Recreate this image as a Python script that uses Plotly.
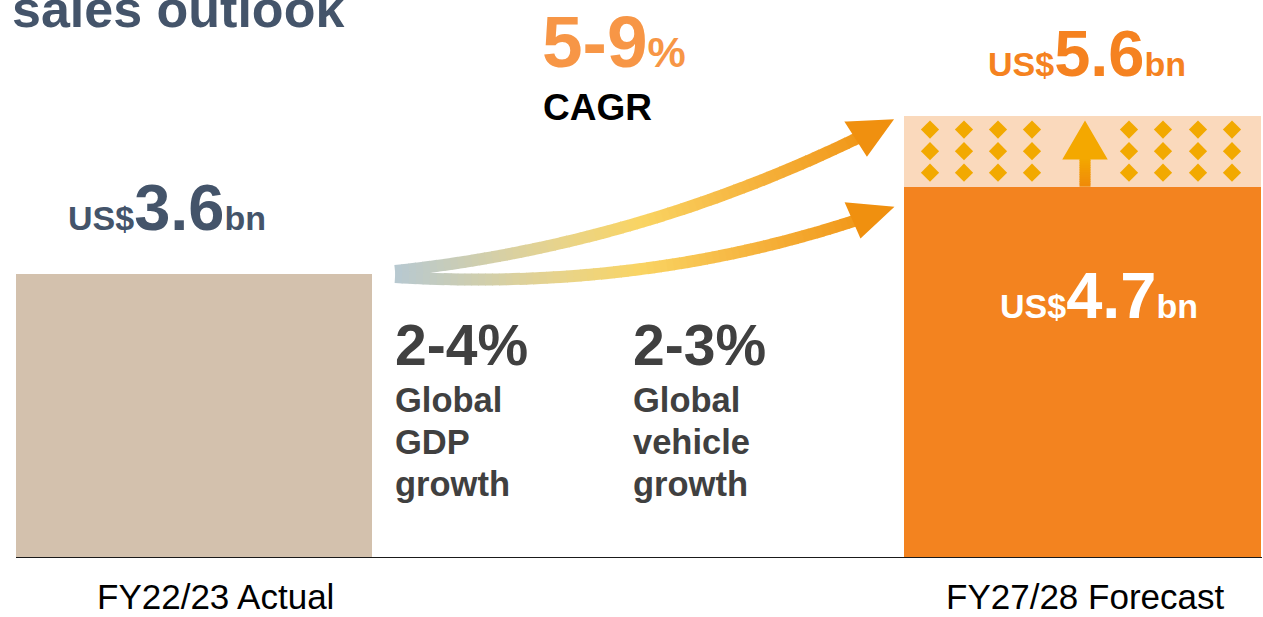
import numpy as np
import plotly.graph_objects as go

# ---- data ----
categories = ["FY22/23 Actual", "FY27/28 Forecast"]
sales_actual = [3.6]          # US$ bn, FY22/23
sales_base = [4.7]            # US$ bn, FY27/28 lower end
sales_upside = [5.6]          # US$ bn, FY27/28 upper end
cagr_label = ["5-9", "%"]
drivers = [("2-4%", ["Global", "GDP", "growth"]), ("2-3%", ["Global", "vehicle", "growth"])]

W, H = 1263, 617
BOTTOM = 59
PLOT_H = H - BOTTOM
PX_PER_BN = 79.0
X0_PX, X_UNIT = 194.0, 888.5


def X(px):
    return (px - X0_PX) / X_UNIT


def Y(py):
    return (PLOT_H - py) / PX_PER_BN


def PX(px):
    return px / W


def PY(py):
    return (PLOT_H - py) / PLOT_H


FONT = "Liberation Sans, Arial, sans-serif"
SLATE = "#44546A"
TAN = "#D3C1AD"
ORANGE = "#F3831F"
PEACH = "#FAD9BC"
GOLD = "#F2A900"

fig = go.Figure()

# bars
fig.add_trace(go.Bar(x=[0], y=sales_actual, width=0.401, marker=dict(color=TAN, line=dict(width=0)),
                     hoverinfo="skip"))
fig.add_trace(go.Bar(x=[1], y=sales_base, width=0.401, marker=dict(color=ORANGE, line=dict(width=0)),
                     hoverinfo="skip"))
fig.add_trace(go.Bar(x=[1], y=[sales_upside[0] - sales_base[0]], base=sales_base, width=0.401,
                     marker=dict(color=PEACH, line=dict(width=0)), hoverinfo="skip"))

# diamond pattern in the upside band
top_px = PLOT_H - sales_upside[0] * PX_PER_BN
base_px = PLOT_H - sales_base[0] * PX_PER_BN
cols = [930, 964, 998, 1032, 1129, 1163, 1198, 1232]
rows = [top_px + 14, (top_px + base_px) / 2, base_px - 14]
dx, dy = [], []
for r in rows:
    for c in cols:
        dx.append(X(c))
        dy.append(Y(r))
fig.add_trace(go.Scatter(x=dx, y=dy, mode="markers",
                         marker=dict(symbol="diamond", size=14, color=GOLD, line=dict(width=0)),
                         hoverinfo="skip"))

shapes = []

# vertical upside arrow
ax = 1085
tip = top_px + 7
head_base = top_px + 43
n_seg = 12
c_bot = np.array([240, 138, 10])
c_top = np.array([244, 168, 0])
for i in range(n_seg):
    y_a = base_px - (base_px - head_base) * i / n_seg
    y_b = base_px - (base_px - head_base) * (i + 1) / n_seg - 0.8
    f = (i + 0.5) / n_seg
    col = c_bot * (1 - f) + c_top * f
    shapes.append(dict(type="rect", xref="x", yref="y", x0=X(ax - 5.5), x1=X(ax + 5.5),
                       y0=Y(y_a), y1=Y(y_b), line=dict(width=0),
                       fillcolor="rgb(%d,%d,%d)" % tuple(col.astype(int)), layer="above"))
shapes.append(dict(type="path", xref="x", yref="y",
                   path="M %f %f L %f %f L %f %f Z" % (X(ax - 21), Y(head_base), X(ax), Y(tip),
                                                     X(ax + 21), Y(head_base)),
                   fillcolor="rgb(244,168,0)", line=dict(width=2, color="rgb(244,168,0)"), layer="above"))

# gradient growth arrows
stops_x = [395, 560, 640, 760, 890]
stops_c = [(183, 201, 210), (232, 212, 140), (250, 213, 100), (246, 178, 60), (240, 144, 15)]


def grad(px):
    return tuple(int(np.interp(px, stops_x, [c[k] for c in stops_c])) for k in range(3))


def bezier(p0, p1, p2, t):
    p0, p1, p2 = map(np.array, (p0, p1, p2))
    return ((1 - t) ** 2)[:, None] * p0 + (2 * (1 - t) * t)[:, None] * p1 + (t ** 2)[:, None] * p2


def band(p0, p1, p2, width, n=70):
    t = np.linspace(0, 1, n + 1)
    pts = bezier(p0, p1, p2, t)
    tang = np.gradient(pts, axis=0)
    tang /= np.linalg.norm(tang, axis=1)[:, None]
    nrm = np.stack([-tang[:, 1], tang[:, 0]], axis=1)
    out = []
    for i in range(n):
        a, b = pts[i], pts[i + 1] + tang[i + 1] * 0.8
        na, nb = nrm[i] * width / 2, nrm[i + 1] * width / 2
        poly = [a + na, b + nb, b - nb, a - na]
        path = "M " + " L ".join("%f %f" % (X(p[0]), Y(p[1])) for p in poly) + " Z"
        col = grad((a[0] + b[0]) / 2)
        out.append(dict(type="path", xref="x", yref="y", path=path,
                        fillcolor="rgb(%d,%d,%d)" % col, line=dict(width=0), layer="above"))
    return out


def head(tip_pt, b1, b2):
    path = "M %f %f L %f %f L %f %f Z" % (X(b1[0]), Y(b1[1]), X(tip_pt[0]), Y(tip_pt[1]),
                                          X(b2[0]), Y(b2[1]))
    return dict(type="path", xref="x", yref="y", path=path, fillcolor="rgb(240,144,15)",
                line=dict(width=3, color="rgb(240,144,15)"), layer="above")


shapes += band((395, 271), (640, 245), (866, 134), 12)
shapes.append(head((891, 121), (847, 123), (867, 154)))
shapes += band((395, 277), (640, 292), (860, 219), 12)
shapes.append(head((891, 208), (847, 204), (861, 236)))

# baseline
shapes.append(dict(type="line", xref="x", yref="y", x0=X(16), x1=X(1262), y0=0, y1=0,
                   line=dict(color="#1A1A1A", width=2), layer="above"))

ann = []


def text_at(txt, px, baseline, size, color, anchor="left", big=None, shift=0):
    """Place single-line text so that its baseline sits at `baseline` (pixels)."""
    biggest = big or size
    ann.append(dict(text=txt, xref="paper", yref="paper", x=PX(px),
                    y=PY(baseline + 0.212 * biggest + 1),
                    xanchor=anchor, yanchor="bottom", showarrow=False, align=anchor, xshift=shift,
                    font=dict(family=FONT, size=size, color=color)))


def money(value):
    return ("<b><span style='font-size:34px'>US$</span>%.1f"
            "<span style='font-size:34px'>bn</span></b>" % value)


def value_label(value, xpos, gap, color, xshift):
    ann.append(dict(text=money(value), xref="x", yref="y", x=xpos, y=value, xanchor="center",
                    yanchor="bottom", yshift=gap - (0.212 * 65 + 1), xshift=xshift,
                    showarrow=False, font=dict(family=FONT, size=65, color=color)))


# title (runs off the top edge)
text_at("<b>sales outlook</b>", 10, 28, 52, SLATE)

# value labels
value_label(sales_actual[0], 0, 42, SLATE, -27)
value_label(sales_upside[0], 1, 38, "#F58220", 4)
text_at(money(sales_base[0]), X0_PX + X_UNIT, 319, 65, "white", anchor="center", shift=16)

# CAGR
text_at("<b>%s<span style='font-size:43px'>%s</span></b>" % tuple(cagr_label), 540, 68, 73,
        "#F79646")
text_at("<b>CAGR</b>", 541, 121, 37, "#000000")

# drivers
for (pct, desc), px in zip(drivers, [393, 631]):
    text_at("<b>%s</b>" % pct, px, 366, 57, "#404040")
    for k, line in enumerate(desc):
        text_at("<b>%s</b>" % line, px, 413 + 42 * k, 34.5, "#404040")

# category labels
for xpos, name, shift in zip([0, 1], categories, [21, 2]):
    text_at(name, X0_PX + xpos * X_UNIT, 610, 35, "#000000", anchor="center", shift=shift)

fig.update_layout(
    width=W, height=H,
    margin=dict(l=0, r=0, t=0, b=BOTTOM, pad=0),
    paper_bgcolor="white", plot_bgcolor="white",
    barmode="overlay", bargap=0,
    showlegend=False,
    xaxis=dict(range=[X(0), X(W)], visible=False, fixedrange=True),
    yaxis=dict(range=[0, PLOT_H / PX_PER_BN], visible=False, fixedrange=True),
    shapes=shapes, annotations=ann,
)

fig.write_html("out.html", config={"displayModeBar": False})
